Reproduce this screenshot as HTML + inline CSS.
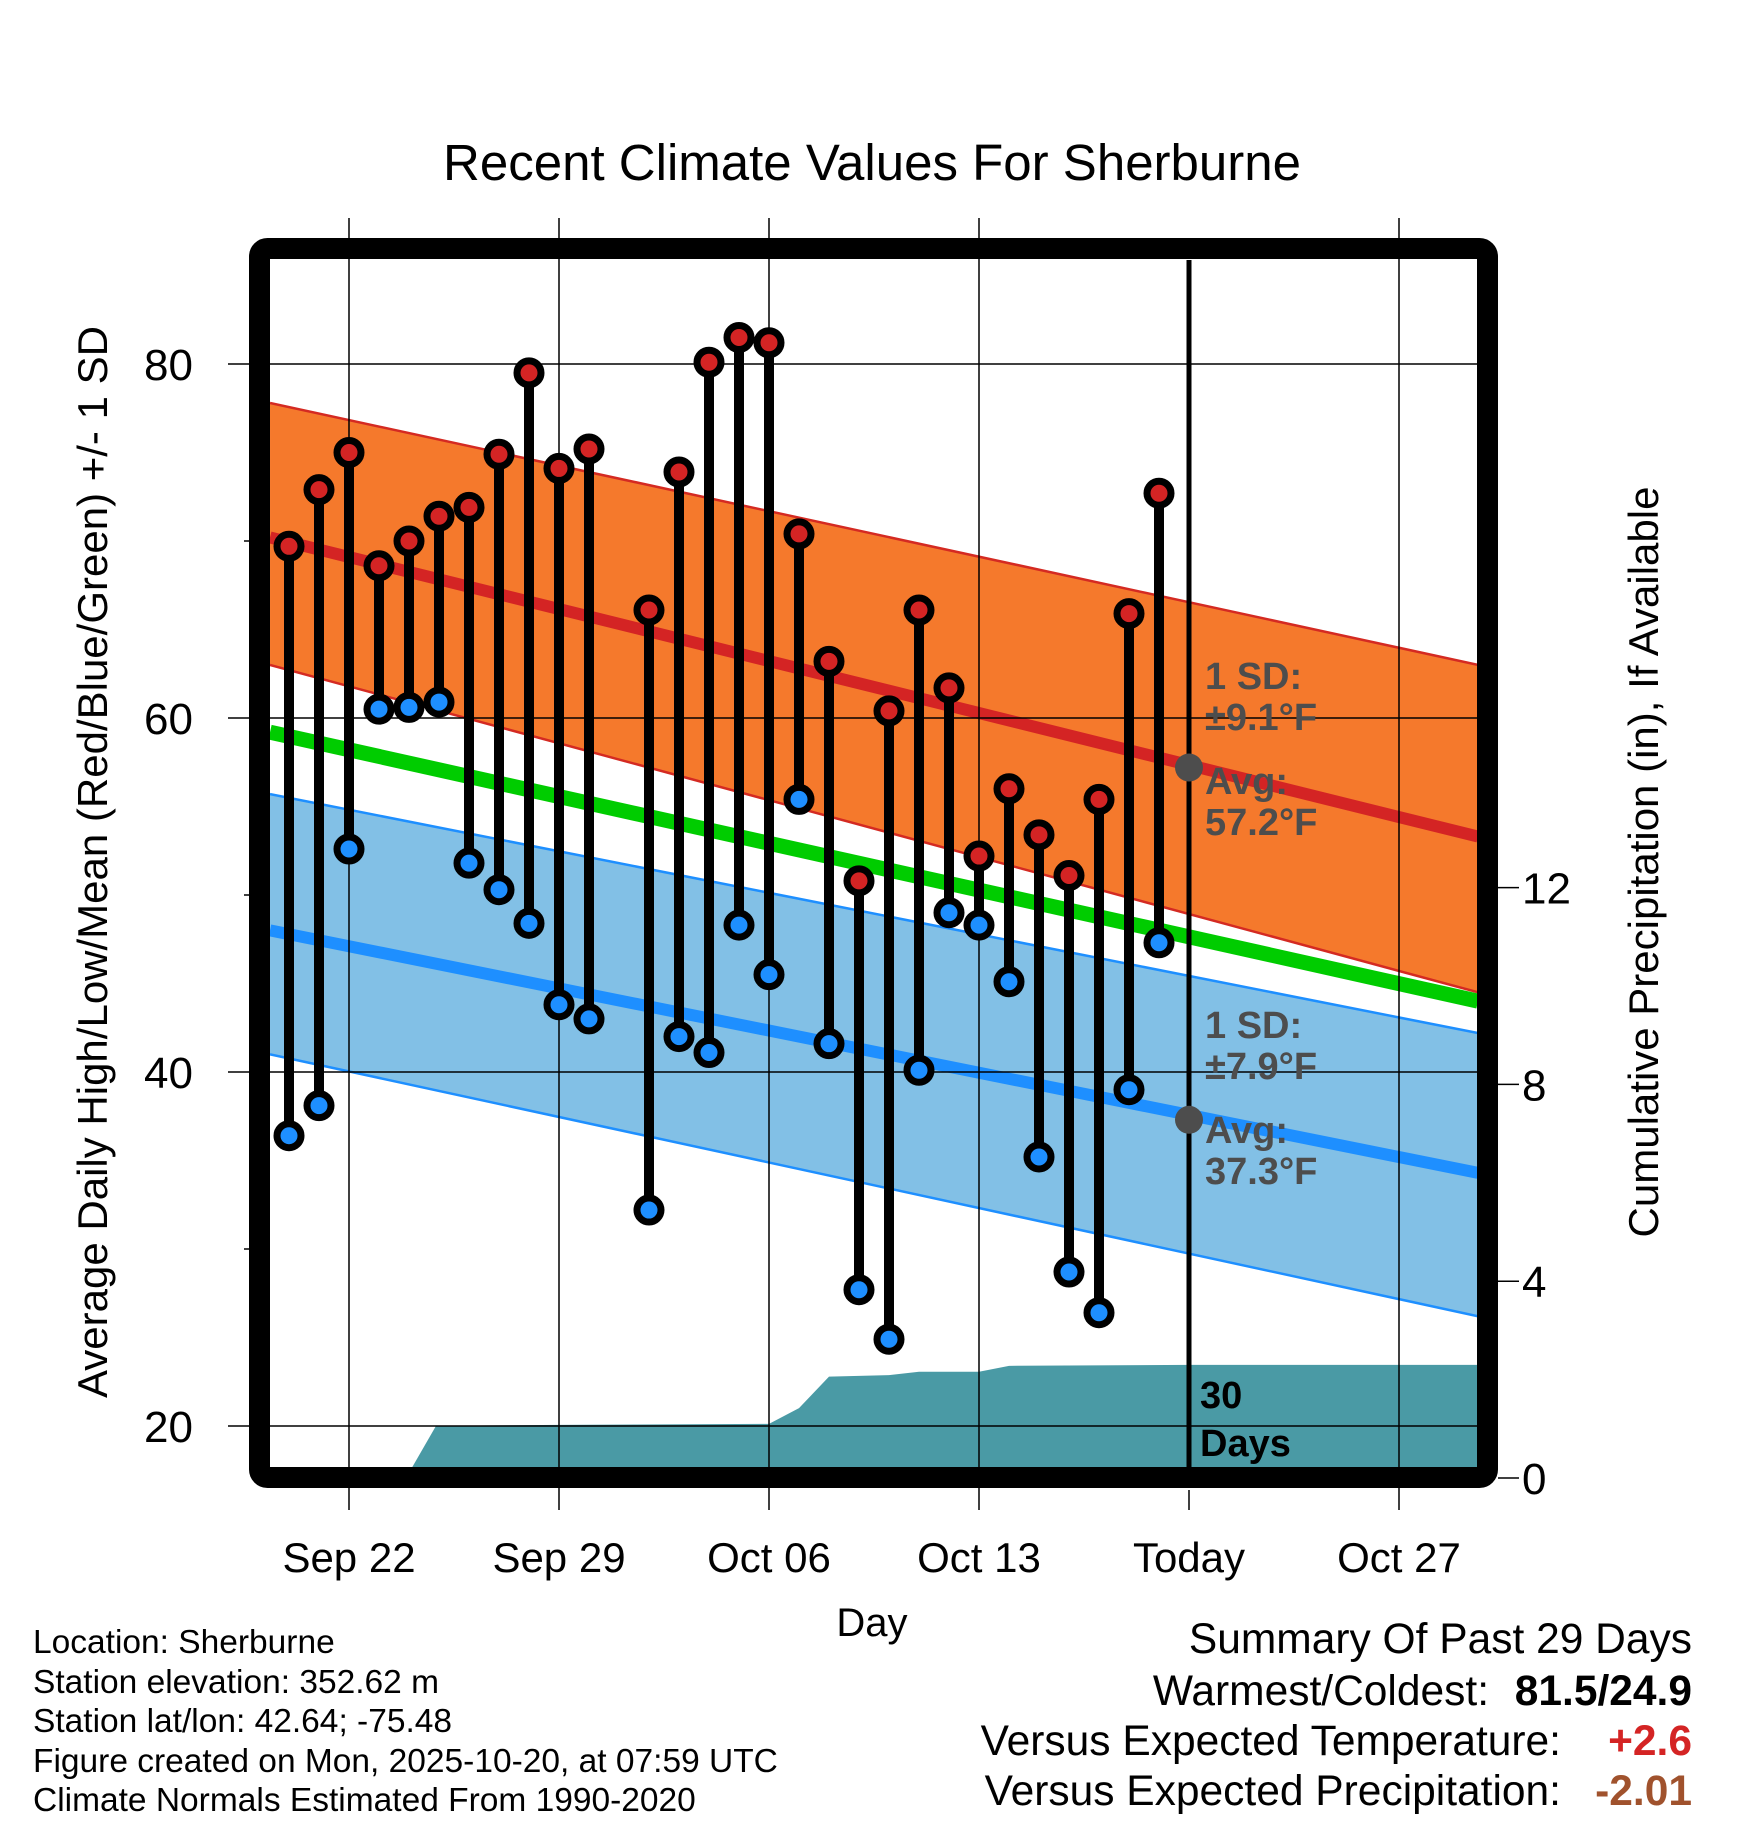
<!DOCTYPE html>
<html><head><meta charset="utf-8"><style>
html,body{margin:0;padding:0;background:#fff;}
svg{display:block;font-family:"Liberation Sans",sans-serif;}
</style></head><body>
<svg id="chart" width="1748" height="1828" viewBox="0 0 1748 1828" xmlns="http://www.w3.org/2000/svg">
<defs><clipPath id="plotclip"><rect x="270" y="260" width="1208" height="1208"/></clipPath></defs>
<g id="plot" clip-path="url(#plotclip)"></g>
<g id="over"></g>
</svg>
<script>
const days = [0,1,2,3,4,5,6,7,8,9,10,12,13,14,15,16,17,18,19,20,21,22,23,24,25,26,27,28,29];
const highs = [69.7,72.9,75.0,68.6,70.0,71.4,71.9,74.9,79.5,74.1,75.2,66.1,73.9,80.1,81.5,81.2,70.4,63.2,50.8,60.4,66.1,61.7,52.2,56.0,53.4,51.1,55.4,65.9,72.7];
const lows = [36.4,38.1,52.6,60.5,60.6,60.9,51.8,50.3,48.4,43.8,43.0,32.2,42.0,41.1,48.3,45.5,55.4,41.6,27.7,24.9,40.1,49.0,48.3,45.1,35.2,28.7,26.4,39.0,47.3];
const precipDays = [0,3.9,4.9,9,16,17,18,20,21,23,24,30,39.7];
const precipVals = [0,0,1.06,1.08,1.1,1.42,2.06,2.09,2.16,2.16,2.28,2.3,2.3];
const normDays = [-0.633,39.633];
const highUpper = [77.8,63.0];
const highMean = [70.2,53.3];
const highLower = [63.0,44.5];
const meanNorm = [59.2,44.0];
const lowUpper = [55.7,42.2];
const lowMean = [48.0,34.3];
const lowLower = [41.0,26.2];
const tempTicks = [20,40,60,80];
const minorTicks = [30,50,70];
const precipTicks = [0,4,8,12];
const dateTicks = [2,9,16,23,30,37];
const dateLabels = ["Sep 22","Sep 29","Oct 06","Oct 13","Today","Oct 27"];
const todayDay = 30;
const todayHigh = 57.2, todayLow = 37.3;

const NS="http://www.w3.org/2000/svg";
const X = d => 289 + 30*d;
const Y = t => 364 + (80 - t)*17.7;
const P = p => 1478 - p*49.2;
const plot=document.getElementById('plot'), over=document.getElementById('over');
function mk(tag, attrs, parent){const e=document.createElementNS(NS,tag);for(const k in attrs)e.setAttribute(k,attrs[k]);parent.appendChild(e);return e;}

function band(up, lo, fill){
  const pts=[[X(normDays[0]),Y(up[0])],[X(normDays[1]),Y(up[1])],[X(normDays[1]),Y(lo[1])],[X(normDays[0]),Y(lo[0])]];
  return mk('polygon',{points:pts.map(p=>p.join(',')).join(' '),fill:fill},plot);
}
function nline(v, color, w){
  return mk('line',{x1:X(normDays[0]),y1:Y(v[0]),x2:X(normDays[1]),y2:Y(v[1]),stroke:color,'stroke-width':w},plot);
}
let e;
e=band(highUpper,highLower,'#f5792c');


e=band(lowUpper,lowLower,'#82c0e6');


e=nline(highUpper,'#d42a22',2.5);


e=nline(highLower,'#d42a22',2.5);


e=nline(lowUpper,'#1e8fff',2.5);


e=nline(lowLower,'#1e8fff',2.5);


e=nline(meanNorm,'#00cc00',15);


e=nline(highMean,'#d42424',12);


e=nline(lowMean,'#1e8fff',12);



let pp=[[X(precipDays[0]),P(0)]];
for(let i=0;i<precipDays.length;i++)pp.push([X(precipDays[i]),P(precipVals[i])]);
pp.push([X(precipDays[precipDays.length-1]),P(0)]);
e=mk('polygon',{points:pp.map(p=>p.join(',')).join(' '),fill:'#4a9aa5'},plot);



tempTicks.forEach(t=>{
  const g=mk('line',{x1:228,y1:Y(t),x2:1478,y2:Y(t),stroke:'#000','stroke-width':1.5},over);
  
  
});
minorTicks.forEach(t=>{
  const g=mk('line',{x1:244,y1:Y(t),x2:260,y2:Y(t),stroke:'#000','stroke-width':1.5},over);
  
  
});
dateTicks.forEach((d,i)=>{
  if(d===todayDay) return;
  const g=mk('line',{x1:X(d),y1:218,x2:X(d),y2:1510,stroke:'#000','stroke-width':1.5},over);
  
  
});
e=mk('line',{x1:X(todayDay),y1:1490,x2:X(todayDay),y2:1510,stroke:'#000','stroke-width':1.5},over);



const G=mk('g',{},over);
days.forEach((d,i)=>{
  const s=mk('line',{x1:X(d),y1:Y(highs[i]),x2:X(d),y2:Y(lows[i]),stroke:'#000','stroke-width':10},G);
  
  
});
days.forEach((d,i)=>{
  [[highs[i],'#d42424','high-point'],[lows[i],'#1e8fff','low-point']].forEach(([v,c,n])=>{
    const c1=mk('circle',{cx:X(d),cy:Y(v),r:12,fill:c,stroke:'#000','stroke-width':7},G);
    
    
  });
});

e=mk('line',{x1:X(todayDay),y1:260,x2:X(todayDay),y2:1468,stroke:'#000','stroke-width':5},over);


e=mk('circle',{cx:X(todayDay),cy:Y(todayHigh),r:14,fill:'#4d4d4d'},over);


e=mk('circle',{cx:X(todayDay),cy:Y(todayLow),r:14,fill:'#4d4d4d'},over);



function txt(s,x,y,attrs,name){const t=mk('text',Object.assign({x:x,y:y},attrs),over);t.textContent=s;return t;}
const ann={fill:'#4d4d4d','font-size':38,'font-weight':'bold'};
txt('1 SD:',1205,689,ann,'high-sd-label');
txt('±9.1°F',1205,730,ann,'high-sd-value');
txt('Avg:',1205,794,ann,'high-avg-label');
txt('57.2°F',1205,835,ann,'high-avg-value');
txt('1 SD:',1205,1038,ann,'low-sd-label');
txt('±7.9°F',1205,1079,ann,'low-sd-value');
txt('Avg:',1205,1143,ann,'low-avg-label');
txt('37.3°F',1205,1184,ann,'low-avg-value');
const db={fill:'#000','font-size':38,'font-weight':'bold'};
txt('30',1200,1408,db,'precip-window-30');
txt('Days',1200,1456,db,'precip-window-days');

e=mk('rect',{x:259.5,y:248.5,width:1228,height:1229,rx:8,fill:'none',stroke:'#000','stroke-width':21},over);



tempTicks.forEach(t=>txt(String(t),193,Y(t)+16,{'font-size':44,'text-anchor':'end'},'y-tick-'+t));
precipTicks.forEach(p=>{
  const l=mk('line',{x1:1498,y1:P(p),x2:1519,y2:P(p),stroke:'#000','stroke-width':1.5},over);
  
  
  txt(String(p),1522,P(p)+16,{'font-size':44},'precip-tick-label-'+p);
});
dateTicks.forEach((d,i)=>txt(dateLabels[i],X(d),1572,{'font-size':42,'text-anchor':'middle'},'x-tick-label'));
txt('Recent Climate Values For Sherburne',872,180,{'font-size':51,'text-anchor':'middle'},'chart-title');
txt('Day',872,1636,{'font-size':40,'text-anchor':'middle'},'x-axis-title');
txt('Average Daily High/Low/Mean (Red/Blue/Green) +/- 1 SD',0,0,{'font-size':42,'text-anchor':'middle',transform:'translate(107,862) rotate(-90)'},'y-axis-title');
txt('Cumulative Precipitation (in), If Available',0,0,{'font-size':42,'text-anchor':'middle',transform:'translate(1658,862) rotate(-90)'},'y2-axis-title');

const fl={'font-size':33.5};
txt('Location: Sherburne',33,1653,fl,'footer-location');
txt('Station elevation: 352.62 m',33,1693,fl,'footer-elevation');
txt('Station lat/lon: 42.64; -75.48',33,1732,fl,'footer-latlon');
txt('Figure created on Mon, 2025-10-20, at 07:59 UTC',33,1772,fl,'footer-created');
txt('Climate Normals Estimated From 1990-2020',33,1811,fl,'footer-normals');
const sr={'font-size':42.5,'text-anchor':'end'};
txt('Summary Of Past 29 Days',1692,1653,sr,'summary-title');
txt('Warmest/Coldest:',1489,1705,sr,'warmest-coldest-label');
txt('81.5/24.9',1692,1705,Object.assign({},sr,{'font-weight':'bold'}),'warmest-coldest-value');
txt('Versus Expected Temperature:',1561,1755,sr,'temp-departure-label');
txt('+2.6',1692,1755,Object.assign({},sr,{'font-weight':'bold',fill:'#d42424'}),'temp-departure-value');
txt('Versus Expected Precipitation:',1561,1805,sr,'precip-departure-label');
txt('-2.01',1692,1805,Object.assign({},sr,{'font-weight':'bold',fill:'#a0522d'}),'precip-departure-value');
</script>
</body></html>
